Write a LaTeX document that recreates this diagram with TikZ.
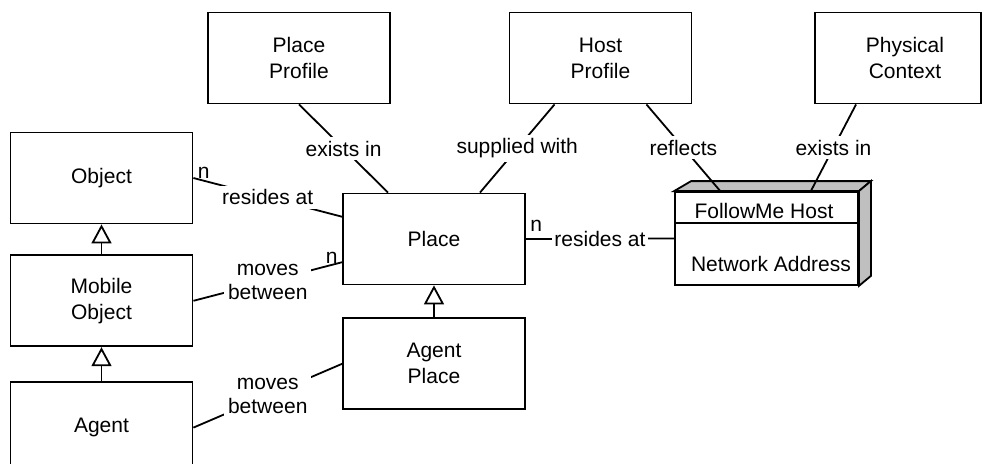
\documentclass[tikz,border=0pt]{standalone}
\usepackage{fontspec}
\setmainfont{Liberation Sans}
\usepackage{tikz}
\usetikzlibrary{arrows.meta,positioning,calc}
\tikzset{
    class/.style={rectangle, draw, line width=0.9pt, minimum width=91pt, minimum height=45.5pt, inner sep=0pt, align=center, font=\fontsize{10.5}{13}\selectfont, fill=white},
    rel/.style={font=\fontsize{10.5}{12}\selectfont, fill=white, inner sep=2pt, align=center},
    mult/.style={font=\fontsize{10.5}{12}\selectfont, inner sep=0.5pt},
    assoc/.style={line width=0.9pt},
    gen/.style={-{Triangle[open, length=9.5pt, width=10pt]}, line width=0.9pt},
    txt/.style={font=\fontsize{10.5}{12}\selectfont, inner sep=0pt},
    side/.style={draw, line width=0.9pt, fill=gray!50},
}

\begin{document}
\begin{tikzpicture}[x=0.5pt, y=-0.5pt]
    \useasboundingbox (0,0) rectangle (982,463);
    \clip (0,0) rectangle (982,463);

    % class column on the left
    \node[class] (object) at (101.5,178) {Object};
    \node[class, below=15pt of object] (mobile) {Mobile\\Object};
    \node[class, below=17pt of mobile] (agent) {Agent};

    % places
    \node[class] (place) at (434,239) {Place};
    \node[class, below=16pt of place] (aplace) {Agent\\Place};

    % profiles on top
    \node[class] (pprofile) at (299,58) {Place\\Profile};
    \node[class] (hprofile) at (600.5,58) {Host\\Profile};
    \node[class, minimum width=83pt] (context) at (898,58) {\hspace*{7pt}Physical\\\hspace*{7pt}Context};

    % host node (3d box)
    \node[class, minimum width=91.5pt, minimum height=46.5pt] (host) at (766.5,238.5) {};
    \draw[side] (host.north west) -- ++(17,-10) -- ([shift={(12,-10)}]host.north east) -- (host.north east) -- cycle;
    \draw[side] (host.north east) -- ++(12,-10) -- ([shift={(12,-10)}]host.south east) -- (host.south east) -- cycle;
    \coordinate (hdiv) at ($(host.north west)!0.333!(host.south west)$);
    \draw[assoc] (hdiv) -- (hdiv -| host.east);
    \node[txt] (hname) at (764,211) {FollowMe Host};
    \node[txt] (haddr) at (771,264) {Network Address};

    % generalisation
    \draw[gen] (mobile) -- (object);
    \draw[gen] (agent) -- (mobile);
    \draw[gen] (aplace) -- (place);

    % associations
    \draw[assoc] (pprofile.south) -- node[rel] {exists in} ($(place.north west)!0.25!(place.north east)$);
    \draw[assoc] ($(hprofile.south west)!0.25!(hprofile.south east)$) -- node[rel] {supplied with} ($(place.north west)!0.75!(place.north east)$);
    \draw[assoc] ($(hprofile.south west)!0.75!(hprofile.south east)$) -- node[rel] {reflects} ($(host.north west)!0.25!(host.north east)$);
    \draw[assoc] ($(context.south west)!0.25!(context.south east)$) -- node[rel] {exists in} ($(host.north west)!0.74!(host.north east)$);

    \draw[assoc] (object.east) -- node[pos=0.07, mult, above] {n} node[rel] {resides at} ($(place.north west)!0.26!(place.south west)$);
    \draw[assoc] (mobile.east) -- node[pos=0.93, mult, above] {n} node[rel] {moves\\between} ($(place.north west)!0.75!(place.south west)$);
    \draw[assoc] (agent.east) -- node[rel] {moves\\between} (aplace.west);
    \draw[assoc] (place.east) -- node[pos=0.07, mult, above=3pt] {n} node[rel, inner sep=1pt] {resides at} (host.west);
\end{tikzpicture}
\end{document}
